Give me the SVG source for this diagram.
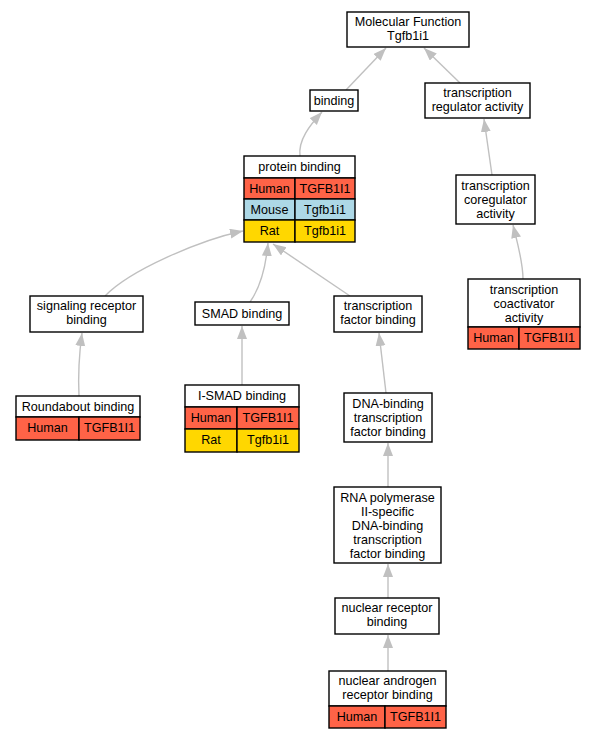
<svg xmlns="http://www.w3.org/2000/svg" width="596" height="739" viewBox="0 0 596 739">
<style>
text{font-family:"Liberation Sans",Arial,sans-serif;font-size:12.6px;fill:#000;text-anchor:middle}
.b{fill:#fff;stroke:#000;stroke-width:1.4}
.h{fill:#ff6347;stroke:#000;stroke-width:1.4}
.m{fill:#add8e6;stroke:#000;stroke-width:1.4}
.r{fill:#ffd700;stroke:#000;stroke-width:1.4}
.e{fill:none;stroke:#c0c0c0;stroke-width:1.4;marker-end:url(#a)}
</style>
<defs>
<marker id="a" markerUnits="userSpaceOnUse" markerWidth="14" markerHeight="11" refX="13" refY="5" orient="auto">
<path d="M0,0 L13,5 L0,10 z" fill="#c0c0c0"/>
</marker>
</defs>
<rect width="596" height="739" fill="#fff"/>
<g id="connectors">
<path class="e" d="M346,90 L386,48"/>
<path class="e" d="M460,83 L424,48"/>
<path class="e" d="M300,156 C298,140 310,125 322,112"/>
<path class="e" d="M492,175 L484,119"/>
<path class="e" d="M523,279 C523,262 518,245 513,225"/>
<path class="e" d="M105,296 C130,270 200,240 243,231"/>
<path class="e" d="M250,302 C262,285 266,265 268,243"/>
<path class="e" d="M350,296 L273,244"/>
<path class="e" d="M79,396 C78,375 79,355 82,333"/>
<path class="e" d="M242,385 L242,326"/>
<path class="e" d="M386,393 L379,333"/>
<path class="e" d="M388,487 L388,443"/>
<path class="e" d="M388,598 L388,564"/>
<path class="e" d="M388,671 L388,635"/>
</g>
<g id="n_mf"><rect class="b" x="347" y="12" width="122" height="35"/><text x="408" y="26">Molecular Function</text><text x="408" y="40">Tgfb1i1</text></g>
<g id="n_binding"><rect class="b" x="310" y="90" width="48" height="21"/><text x="334" y="105">binding</text></g>
<g id="n_tra"><rect class="b" x="425" y="83" width="105" height="35"/><text x="477.5" y="97">transcription</text><text x="477.5" y="111">regulator activity</text></g>
<g id="n_pb"><rect class="b" x="244" y="156" width="111" height="22"/><text x="299.5" y="171">protein binding</text>
<rect class="h" x="244" y="178" width="51" height="21"/><rect class="h" x="295" y="178" width="60" height="21"/><text x="269.5" y="193">Human</text><text x="325" y="193">TGFB1I1</text>
<rect class="m" x="244" y="199" width="51" height="21"/><rect class="m" x="295" y="199" width="60" height="21"/><text x="269.5" y="214">Mouse</text><text x="325" y="214">Tgfb1i1</text>
<rect class="r" x="244" y="220" width="51" height="22"/><rect class="r" x="295" y="220" width="60" height="22"/><text x="269.5" y="235">Rat</text><text x="325" y="235">Tgfb1i1</text></g>
<g id="n_coreg"><rect class="b" x="456" y="175" width="79" height="49"/><text x="495.5" y="190">transcription</text><text x="495.5" y="204">coregulator</text><text x="495.5" y="218">activity</text></g>
<g id="n_coact"><rect class="b" x="468" y="279" width="112" height="48"/><text x="524" y="293.5">transcription</text><text x="524" y="307.5">coactivator</text><text x="524" y="321.5">activity</text>
<rect class="h" x="468" y="327" width="51" height="22"/><rect class="h" x="519" y="327" width="61" height="22"/><text x="493.5" y="342">Human</text><text x="549.5" y="342">TGFB1I1</text></g>
<g id="n_sig"><rect class="b" x="30" y="296" width="113" height="36"/><text x="86.5" y="310">signaling receptor</text><text x="86.5" y="324">binding</text></g>
<g id="n_smad"><rect class="b" x="195" y="302" width="94" height="23"/><text x="242" y="318">SMAD binding</text></g>
<g id="n_tfb"><rect class="b" x="334" y="296" width="88" height="36"/><text x="378" y="310">transcription</text><text x="378" y="324">factor binding</text></g>
<g id="n_robo"><rect class="b" x="16" y="396" width="124" height="21"/><text x="78" y="411">Roundabout binding</text>
<rect class="h" x="16" y="417" width="63" height="23"/><rect class="h" x="79" y="417" width="61" height="23"/><text x="47.5" y="432">Human</text><text x="109.5" y="432">TGFB1I1</text></g>
<g id="n_ismad"><rect class="b" x="185" y="385" width="114" height="22"/><text x="242" y="400">I-SMAD binding</text>
<rect class="h" x="185" y="407" width="52" height="22"/><rect class="h" x="237" y="407" width="62" height="22"/><text x="211" y="422">Human</text><text x="268" y="422">TGFB1I1</text>
<rect class="r" x="185" y="429" width="52" height="23"/><rect class="r" x="237" y="429" width="62" height="23"/><text x="211" y="444">Rat</text><text x="268" y="444">Tgfb1i1</text></g>
<g id="n_dna"><rect class="b" x="344" y="393" width="88" height="49"/><text x="388" y="408">DNA-binding</text><text x="388" y="422">transcription</text><text x="388" y="436">factor binding</text></g>
<g id="n_rna"><rect class="b" x="334" y="487" width="107" height="76"/><text x="387.5" y="502">RNA polymerase</text><text x="387.5" y="516">II-specific</text><text x="387.5" y="530">DNA-binding</text><text x="387.5" y="544">transcription</text><text x="387.5" y="558">factor binding</text></g>
<g id="n_nr"><rect class="b" x="335" y="598" width="104" height="36"/><text x="387" y="612">nuclear receptor</text><text x="387" y="626">binding</text></g>
<g id="n_ar"><rect class="b" x="329" y="671" width="117" height="35"/><text x="387.5" y="685">nuclear androgen</text><text x="387.5" y="699">receptor binding</text>
<rect class="h" x="329" y="706" width="56" height="22"/><rect class="h" x="385" y="706" width="61" height="22"/><text x="357" y="721">Human</text><text x="415.5" y="721">TGFB1I1</text></g>
</svg>
